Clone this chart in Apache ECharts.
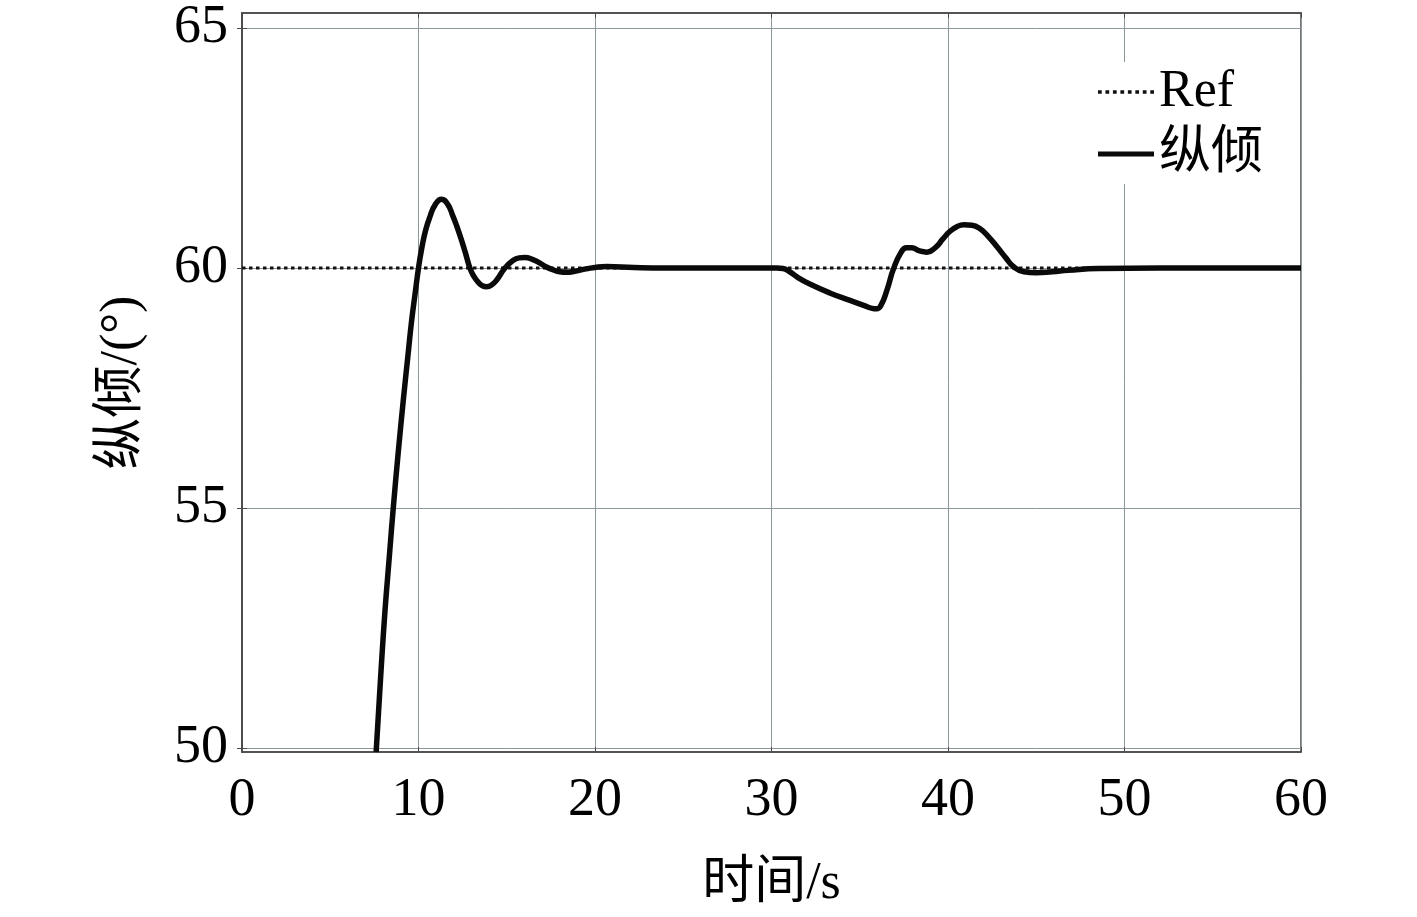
<!DOCTYPE html>
<html><head><meta charset="utf-8">
<script src="https://cdn.jsdelivr.net/npm/echarts@6/dist/echarts.min.js"></script>
<style>html,body{margin:0;padding:0;background:#fff}#c{width:1417px;height:917px}</style>
</head><body><div id="c"></div>
<script>
const xTicks = [0, 10, 20, 30, 40, 50, 60];
const yTicks = [50, 55, 60, 65];
const refTime = [0, 60];
const refValue = [60, 60];
const pitchTime = [7.6, 7.85, 8.1, 8.35, 8.57, 8.85, 9.14, 9.4, 9.61, 9.82, 10.0, 10.18, 10.4, 10.66, 10.95, 11.3, 11.65, 11.95, 12.16, 12.4, 12.63, 12.93, 13.15, 13.39, 13.62, 13.86, 14.12, 14.43, 14.9, 15.37, 15.7, 16.03, 16.45, 16.88, 17.25, 17.64, 18.0, 18.4, 18.85, 19.34, 20.0, 20.66, 22.2, 24, 27, 30.3, 30.65, 31.0, 31.5, 32.2, 33.3, 34.4, 35.3, 35.7, 35.95, 36.2, 36.55, 36.9, 37.3, 37.65, 37.95, 38.35, 38.8, 39.3, 39.7, 40.1, 40.5, 40.9, 41.35, 41.8, 42.3, 42.8, 43.3, 43.7, 44.3, 45.0, 45.9, 46.8, 48.5, 52, 56, 60];
const pitchValue = [49.92, 51.45, 52.85, 54.0, 55.0, 56.15, 57.25, 58.17, 58.9, 59.5, 60.0, 60.4, 60.78, 61.08, 61.32, 61.43, 61.33, 61.08, 60.88, 60.62, 60.35, 59.98, 59.82, 59.7, 59.63, 59.61, 59.64, 59.75, 60.0, 60.16, 60.21, 60.22, 60.18, 60.1, 60.02, 59.96, 59.92, 59.91, 59.93, 59.97, 60.01, 60.03, 60.01, 60.0, 60.0, 60.0, 59.99, 59.93, 59.8, 59.66, 59.48, 59.33, 59.21, 59.16, 59.15, 59.22, 59.55, 59.97, 60.3, 60.42, 60.42, 60.36, 60.33, 60.43, 60.6, 60.76, 60.86, 60.9, 60.89, 60.82, 60.65, 60.43, 60.2, 60.03, 59.92, 59.9, 59.92, 59.95, 59.99, 60.0, 60.0, 60.0];

const serif = '"Liberation Serif","Noto Sans CJK SC",serif';
const gridColor = '#8d989c';
const frameColor = '#4a4a4a';
const toPairs = (xs, ys) => xs.map((x, i) => [x, ys[i]]);

let dotPath = 'path://';
for (let i = 0; i < 8; i++) dotPath += 'M' + (i * 7) + ',0h3.5v3.5h-3.5z';
const solidPath = 'path://M0,0h56v5h-56z';

const chart = echarts.init(document.getElementById('c'));
chart.setOption({
  animation: false,
  backgroundColor: '#fff',
  grid: { left: 242, right: 116, top: 13, bottom: 165, show: true, borderColor: frameColor, borderWidth: 1.5 },
  legend: {
    left: 1094, top: 62, orient: 'vertical', itemWidth: 56, itemHeight: 5, itemGap: 10,
    backgroundColor: '#fff', padding: [4, 36, 4, 4],
    textStyle: { fontFamily: serif, fontSize: 52, color: '#000' },
    data: [
      { name: 'Ref', icon: dotPath, itemStyle: { color: '#111' } },
      { name: '纵倾', icon: solidPath, itemStyle: { color: '#0a0a0a' } }
    ]
  },
  xAxis: [{
    type: 'value', min: 0, max: 60, interval: 10,
    name: '时间/s', nameLocation: 'middle', nameGap: 106,
    nameTextStyle: { fontFamily: serif, fontSize: 52, color: '#000' },
    axisLine: { show: true, lineStyle: { color: frameColor, width: 1.5 } },
    axisTick: { show: true, inside: true, length: 5, lineStyle: { color: frameColor } },
    axisLabel: { fontFamily: serif, fontSize: 54, color: '#000', margin: 22, formatter: v => xTicks.includes(v) ? String(v) : '' },
    splitLine: { show: true, lineStyle: { color: gridColor, width: 1 } }
  }, {
    type: 'value', min: 0, max: 60, interval: 10, position: 'top',
    axisLine: { show: true, lineStyle: { color: frameColor, width: 1.5 } },
    axisTick: { show: true, inside: true, length: 5, lineStyle: { color: frameColor } },
    axisLabel: { show: false }, splitLine: { show: false }
  }],
  yAxis: [{
    type: 'value', min: 49.92, max: 65.31,
    name: '纵倾/(°)', nameLocation: 'middle', nameGap: 94, nameRotate: 90,
    nameTextStyle: { fontFamily: serif, fontSize: 52, color: '#000' },
    axisLine: { show: true, lineStyle: { color: frameColor, width: 1.5 } },
    axisTick: { show: true, inside: true, length: 5, customValues: yTicks, lineStyle: { color: frameColor } },
    axisLabel: { fontFamily: serif, fontSize: 54, color: '#000', margin: 14, customValues: yTicks },
    splitLine: { show: true, lineStyle: { color: gridColor, width: 1 } }
  }, {
    type: 'value', min: 49.92, max: 65.31, position: 'right',
    axisLine: { show: true, lineStyle: { color: frameColor, width: 1.5 } },
    axisTick: { show: true, inside: true, length: 5, customValues: yTicks, lineStyle: { color: frameColor } },
    axisLabel: { show: false }, splitLine: { show: false }
  }],
  series: [{
    name: 'Ref', type: 'line', data: toPairs(refTime, refValue), symbol: 'none', color: '#111',
    lineStyle: { color: '#111', width: 3, type: [3.5, 3.5] }, z: 3
  }, {
    name: '纵倾', type: 'line', data: toPairs(pitchTime, pitchValue), symbol: 'none', smooth: 0.5, color: '#0a0a0a',
    clip: true,
    lineStyle: { color: '#0a0a0a', width: 5.5 }, z: 4
  }]
});
</script></body></html>
